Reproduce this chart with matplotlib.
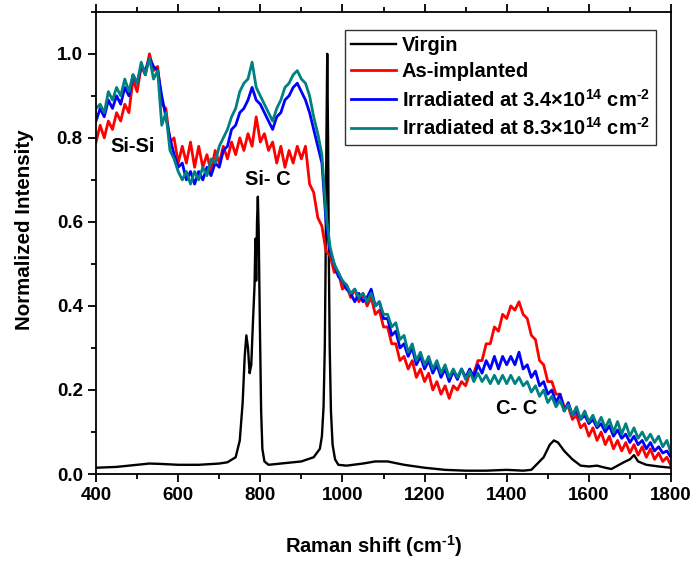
import matplotlib
matplotlib.use("Agg")
import matplotlib.pyplot as plt
import numpy as np
from matplotlib.ticker import MultipleLocator

plt.rcParams['font.family'] = ['Liberation Sans', 'DejaVu Sans']
plt.rcParams['font.weight'] = 'bold'
plt.rcParams['mathtext.fontset'] = 'custom'
plt.rcParams['mathtext.rm'] = 'Liberation Sans:bold'
plt.rcParams['mathtext.bf'] = 'Liberation Sans:bold'
plt.rcParams['mathtext.it'] = 'Liberation Sans:bold'

# Virgin (black) spectrum
virgin_x = [400, 450, 500, 530, 560, 600, 650, 700, 720, 740, 750, 757, 762, 766, 770, 774, 778,
            782, 786, 788, 790, 792, 794, 796, 799, 802, 805, 810, 820, 850, 900, 930, 945, 950,
            954, 957, 959, 961, 963, 965, 967, 969, 972, 976, 982, 990, 1010, 1050, 1080, 1110,
            1150, 1200, 1250, 1300, 1350, 1400, 1440, 1460, 1475, 1490, 1505, 1515, 1525, 1540,
            1560, 1580, 1600, 1620, 1640, 1655, 1670, 1685, 1700, 1710, 1720, 1740, 1770, 1800]
virgin_y = [0.015, 0.017, 0.022, 0.025, 0.024, 0.022, 0.022, 0.025, 0.028, 0.04, 0.08, 0.17, 0.28,
            0.33, 0.30, 0.24, 0.26, 0.36, 0.45, 0.56, 0.46, 0.60, 0.66, 0.58, 0.35, 0.15, 0.06,
            0.03, 0.022, 0.025, 0.03, 0.04, 0.06, 0.09, 0.16, 0.30, 0.50, 0.80, 1.0, 0.80, 0.50,
            0.30, 0.15, 0.07, 0.035, 0.022, 0.02, 0.025, 0.03, 0.03, 0.022, 0.015, 0.01, 0.008,
            0.008, 0.01, 0.008, 0.01, 0.025, 0.04, 0.07, 0.08, 0.075, 0.055, 0.035, 0.02, 0.018,
            0.02, 0.015, 0.012, 0.02, 0.028, 0.035, 0.045, 0.03, 0.022, 0.018, 0.015]

# the three broad spectra, sampled every 10 cm-1 from 400 to 1800
shift = list(range(400, 1801, 10))

as_implanted = [
    0.79, 0.83, 0.80, 0.84, 0.82, 0.86, 0.84, 0.88, 0.86, 0.94, 0.91, 0.97, 0.95, 1.00, 0.96,
    0.97, 0.88, 0.87, 0.79, 0.80, 0.74, 0.78, 0.74, 0.79, 0.73, 0.78, 0.73, 0.76, 0.72, 0.77,
    0.74, 0.78, 0.75, 0.79, 0.76, 0.80, 0.77, 0.81, 0.78, 0.85, 0.79, 0.81, 0.77, 0.79, 0.74,
    0.78, 0.73, 0.77, 0.74, 0.78, 0.75, 0.78, 0.69, 0.67, 0.61, 0.59, 0.53, 0.52, 0.48, 0.48,
    0.44, 0.45, 0.42, 0.44, 0.41, 0.43, 0.40, 0.42, 0.38, 0.39, 0.35, 0.35, 0.31, 0.31, 0.27,
    0.28, 0.25, 0.27, 0.23, 0.25, 0.22, 0.24, 0.20, 0.22, 0.19, 0.21, 0.18, 0.21, 0.20, 0.22,
    0.21, 0.24, 0.24, 0.27, 0.27, 0.31, 0.31, 0.35, 0.34, 0.38, 0.37, 0.40, 0.39, 0.41, 0.38,
    0.37, 0.33, 0.32, 0.27, 0.26, 0.22, 0.22, 0.19, 0.19, 0.16, 0.16, 0.13, 0.14, 0.11, 0.12,
    0.09, 0.11, 0.08, 0.10, 0.07, 0.09, 0.06, 0.08, 0.055, 0.075, 0.05, 0.07, 0.045, 0.065,
    0.04, 0.06, 0.035, 0.05, 0.03, 0.04, 0.02]

irr_34 = [
    0.84, 0.87, 0.85, 0.89, 0.87, 0.90, 0.88, 0.92, 0.90, 0.95, 0.93, 0.97, 0.96, 0.99, 0.97,
    0.96, 0.90, 0.85, 0.80, 0.76, 0.73, 0.74, 0.70, 0.72, 0.69, 0.72, 0.70, 0.73, 0.71, 0.74,
    0.73, 0.77, 0.78, 0.82, 0.83, 0.86, 0.87, 0.89, 0.92, 0.89, 0.88, 0.86, 0.84, 0.82, 0.85,
    0.86, 0.89, 0.90, 0.92, 0.93, 0.91, 0.89, 0.86, 0.82, 0.78, 0.74, 0.60, 0.53, 0.50, 0.47,
    0.46, 0.44, 0.43, 0.41, 0.43, 0.41, 0.42, 0.44, 0.40, 0.41, 0.37, 0.37, 0.33, 0.34, 0.30,
    0.31, 0.28, 0.30, 0.26, 0.28, 0.25, 0.27, 0.24, 0.26, 0.23, 0.25, 0.22, 0.245, 0.225, 0.25,
    0.23, 0.25, 0.23, 0.26, 0.24, 0.27, 0.25, 0.28, 0.25, 0.28, 0.26, 0.28, 0.26, 0.29, 0.25,
    0.26, 0.23, 0.245, 0.21, 0.22, 0.19, 0.20, 0.17, 0.19, 0.15, 0.17, 0.14, 0.15, 0.13, 0.14,
    0.12, 0.13, 0.11, 0.12, 0.10, 0.115, 0.09, 0.105, 0.085, 0.095, 0.075, 0.09, 0.07, 0.08,
    0.06, 0.075, 0.055, 0.065, 0.05, 0.055, 0.04]

irr_83 = [
    0.87, 0.88, 0.86, 0.91, 0.89, 0.92, 0.90, 0.94, 0.91, 0.95, 0.93, 0.98, 0.95, 0.99, 0.94,
    0.96, 0.83, 0.86, 0.77, 0.75, 0.72, 0.70, 0.72, 0.69, 0.72, 0.70, 0.73, 0.71, 0.75, 0.74,
    0.78, 0.80, 0.82, 0.85, 0.87, 0.91, 0.93, 0.94, 0.98, 0.92, 0.90, 0.88, 0.86, 0.84, 0.87,
    0.89, 0.92, 0.93, 0.95, 0.96, 0.94, 0.93, 0.90, 0.85, 0.81, 0.76, 0.62, 0.54, 0.50, 0.48,
    0.46, 0.45, 0.43, 0.44, 0.42, 0.43, 0.41, 0.43, 0.40, 0.41, 0.38, 0.38, 0.35, 0.36, 0.32,
    0.33, 0.29, 0.31, 0.27, 0.29, 0.26, 0.28, 0.25, 0.27, 0.24, 0.26, 0.23, 0.25, 0.23, 0.25,
    0.225, 0.245, 0.22, 0.24, 0.22, 0.235, 0.215, 0.235, 0.215, 0.235, 0.215, 0.235, 0.215, 0.23,
    0.21, 0.22, 0.195, 0.21, 0.185, 0.20, 0.17, 0.185, 0.16, 0.175, 0.15, 0.165, 0.14, 0.16,
    0.13, 0.15, 0.125, 0.14, 0.115, 0.135, 0.11, 0.13, 0.10, 0.125, 0.095, 0.12, 0.09, 0.11,
    0.085, 0.10, 0.08, 0.095, 0.075, 0.09, 0.065, 0.08, 0.05]

labels = ["Virgin", "As-implanted",
          r"Irradiated at 3.4×10$^{14}$ cm$^{\text{-2}}$",
          r"Irradiated at 8.3×10$^{14}$ cm$^{\text{-2}}$"]
colors = ["black", "#ff0000", "#0000ff", "#008080"]

peak_names = ["Si-Si", "Si- C", "C- C"]
peak_pos = [(490, 0.78), (819, 0.70), (1423, 0.157)]

fig = plt.figure(figsize=(6.91, 5.61), dpi=100)
ax = fig.add_axes([0.139, 0.155, 0.832, 0.824])

ax.plot(virgin_x, virgin_y, color=colors[0], lw=1.7, label=labels[0])
ax.plot(shift, as_implanted, color=colors[1], lw=2.0, label=labels[1])
ax.plot(shift, irr_34, color=colors[2], lw=2.0, label=labels[2])
ax.plot(shift, irr_83, color=colors[3], lw=2.0, label=labels[3])

for name, (px, py) in zip(peak_names, peak_pos):
    ax.text(px, py, name, ha="center", va="center", fontsize=14.5, fontweight="bold")

ax.set_xlim(400, 1800)
ax.set_ylim(0, 1.1)
ax.xaxis.set_major_locator(MultipleLocator(200))
ax.xaxis.set_minor_locator(MultipleLocator(100))
ax.yaxis.set_major_locator(MultipleLocator(0.2))
ax.yaxis.set_minor_locator(MultipleLocator(0.1))
ax.yaxis.set_major_formatter(matplotlib.ticker.FormatStrFormatter("%.1f"))
ax.tick_params(which="both", direction="out", width=1.3, top=True, right=False,
               labelsize=13.5)
ax.tick_params(which="major", length=6)
ax.tick_params(which="minor", length=3.5)
for sp in ax.spines.values():
    sp.set_linewidth(1.3)
for lab in ax.get_xticklabels() + ax.get_yticklabels():
    lab.set_fontweight("bold")

ax.set_xlabel(r"Raman shift (cm$^{\text{-1}}$)", fontsize=14.5, fontweight="bold")
ax.xaxis.set_label_coords(0.483, -0.128)
ax.set_ylabel("Normalized Intensity", fontsize=14.8, fontweight="bold")
ax.yaxis.set_label_coords(-0.108, 0.528)

leg = ax.legend(loc="upper right", bbox_to_anchor=(0.974, 0.96), fontsize=14.5,
                frameon=True, fancybox=False, handlelength=2.2, labelspacing=0.35,
                borderpad=0.3, handletextpad=0.3, borderaxespad=0)
leg.get_frame().set_edgecolor("black")
leg.get_frame().set_linewidth(1.0)
for t in leg.get_texts():
    t.set_fontweight("bold")

fig.savefig("out.png", dpi=100)
